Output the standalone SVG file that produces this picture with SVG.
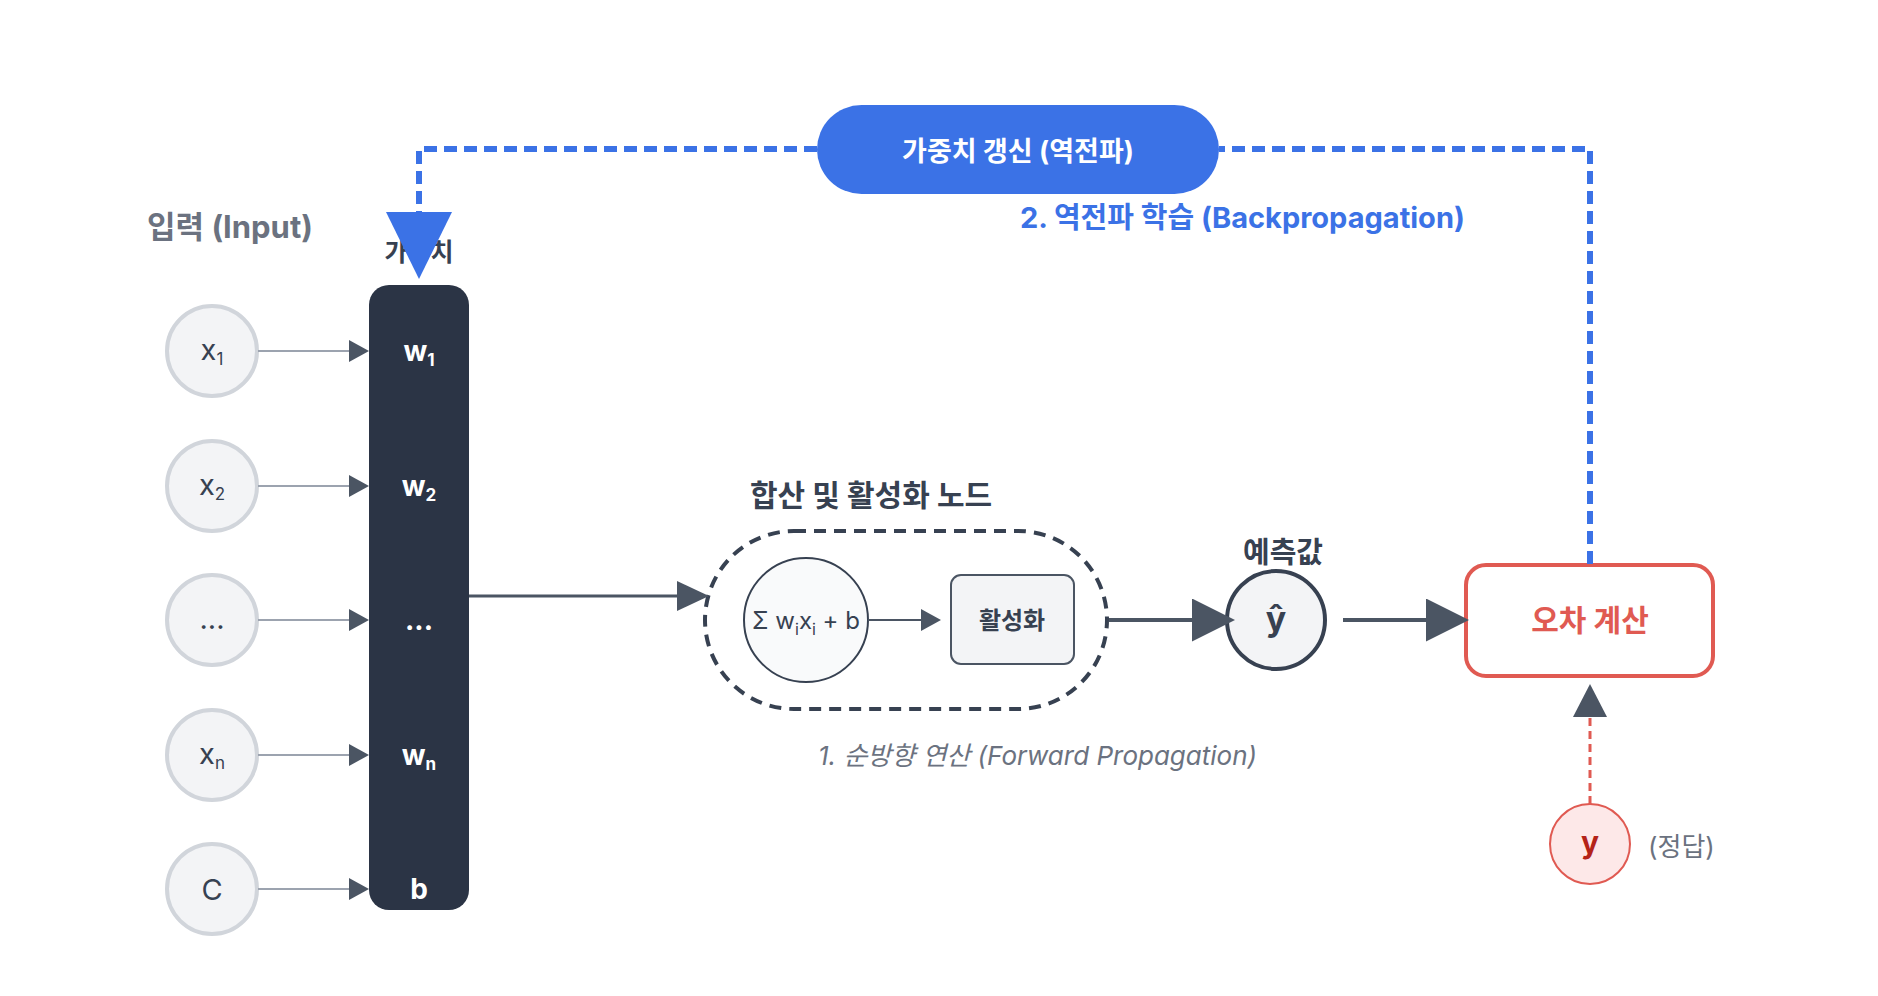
<svg xmlns="http://www.w3.org/2000/svg" width="1878" height="996" viewBox="0 0 1878 996">
<style>
text{font-family:Inter,"Noto Sans CJK KR",sans-serif}
.in{fill:#f3f4f6;stroke:#d1d5db;stroke-width:4}
.inT{font-size:29px;fill:#374151;text-anchor:middle}
.wT{font-size:28px;font-weight:700;fill:#ffffff;text-anchor:middle}
.sub{font-size:17px}
.inl{stroke:#9ca3af;stroke-width:2;fill:none}
.dl{stroke:#4b5563;fill:none}
.lbl{font-weight:700;fill:#374151}
</style>
<defs>
<marker id="arrS" markerUnits="userSpaceOnUse" markerWidth="20" markerHeight="22" refX="0" refY="11" orient="auto"><path d="M0,0 L20,11 L0,22 z" fill="#4b5563"/></marker>
<marker id="arrM" markerUnits="userSpaceOnUse" markerWidth="32" markerHeight="30" refX="0" refY="15" orient="auto"><path d="M0,0 L32,15 L0,30 z" fill="#4b5563"/></marker>
<marker id="arrL" markerUnits="userSpaceOnUse" markerWidth="43" markerHeight="43" refX="0" refY="21.5" orient="auto"><path d="M0,0 L43,21.5 L0,43 z" fill="#4b5563"/></marker>
<marker id="arrU" markerUnits="userSpaceOnUse" markerWidth="33" markerHeight="34" refX="0" refY="17" orient="auto"><path d="M0,0 L33,17 L0,34 z" fill="#4b5563"/></marker>
<marker id="arrB" markerUnits="userSpaceOnUse" markerWidth="67" markerHeight="66" refX="0" refY="33" orient="auto"><path d="M0,0 L67,33 L0,66 z" fill="#3b72e6"/></marker>
</defs>
<rect width="1878" height="996" fill="#ffffff"/>

<g id="labels">
<text x="147" y="238" font-size="31" font-weight="700" fill="#6b7280">입력 (Input)</text>
<text x="419" y="261" font-size="25" font-weight="700" fill="#374151" text-anchor="middle">가중치</text>
<text x="750" y="506" font-size="30" class="lbl">합산 및 활성화 노드</text>
<text x="1283" y="563" font-size="29" class="lbl" text-anchor="middle">예측값</text>
<text x="1020" y="228" font-size="29" font-weight="700" fill="#3b72e6">2. 역전파 학습 (Backpropagation)</text>
<text x="818" y="765" font-size="26" font-style="italic" fill="#6b7280">1. 순방향 연산 (Forward Propagation)</text>
<text x="1648" y="856" font-size="26" fill="#6b7280">(정답)</text>
</g>

<g id="inputs">
<g id="x1"><circle class="in" cx="212" cy="351" r="45"/><text class="inT" x="212" y="360">x<tspan class="sub" dy="5">1</tspan></text></g>
<g id="x2"><circle class="in" cx="212" cy="486" r="45"/><text class="inT" x="212" y="495">x<tspan class="sub" dy="5">2</tspan></text></g>
<g id="xdots"><circle class="in" cx="212" cy="620" r="45"/><text class="inT" x="212" y="629" font-size="24">...</text></g>
<g id="xn"><circle class="in" cx="212" cy="755" r="45"/><text class="inT" x="212" y="764">x<tspan class="sub" dy="5">n</tspan></text></g>
<g id="c"><circle class="in" cx="212" cy="889" r="45"/><text class="inT" x="212" y="900" font-size="30">C</text></g>
</g>

<g id="weights">
<rect x="369" y="285" width="100" height="625" rx="20" fill="#2b3445"/>
<text class="wT" x="419" y="361">w<tspan class="sub" dy="5">1</tspan></text>
<text class="wT" x="419" y="496">w<tspan class="sub" dy="5">2</tspan></text>
<text class="wT" x="419" y="630" font-size="24">...</text>
<text class="wT" x="419" y="765">w<tspan class="sub" dy="5">n</tspan></text>
<text class="wT" x="419" y="899">b</text>
</g>

<g id="sum-activation-group">
<rect x="705" y="531" width="402" height="178" rx="89" fill="none" stroke="#374151" stroke-width="4" stroke-dasharray="12 8"/>
</g>

<g id="sum">
<circle cx="806" cy="620" r="62" fill="#f9fafb" stroke="#374151" stroke-width="2"/>
<text x="806" y="629" font-size="24" fill="#374151" text-anchor="middle">Σ w<tspan font-size="16" dy="6">i</tspan><tspan dy="-6">x</tspan><tspan font-size="16" dy="6">i</tspan><tspan dy="-6"> + b</tspan></text>
</g>

<g id="activation">
<rect x="951" y="575" width="123" height="89" rx="10" fill="#f3f4f6" stroke="#4b5563" stroke-width="2"/>
<text x="1012" y="629" font-size="24" font-weight="700" fill="#374151" text-anchor="middle">활성화</text>
</g>

<g id="prediction">
<circle cx="1276" cy="620" r="49" fill="#f3f4f6" stroke="#374151" stroke-width="4"/>
<text x="1276" y="631" font-size="34" font-weight="700" fill="#374151" text-anchor="middle">ŷ</text>
</g>

<g id="error">
<rect x="1466" y="565" width="247" height="111" rx="20" fill="#ffffff" stroke="#e05a52" stroke-width="4"/>
<text x="1590" y="631" font-size="30" font-weight="700" fill="#e05a52" text-anchor="middle">오차 계산</text>
</g>

<g id="target">
<circle cx="1590" cy="844" r="40" fill="#fde8e8" stroke="#e05a52" stroke-width="2"/>
<text x="1590" y="853" font-size="30" font-weight="700" fill="#b42318" text-anchor="middle">y</text>
</g>

<g id="update">
<rect x="817" y="105" width="402" height="89" rx="44.5" fill="#3b72e6"/>
<text x="1018" y="161" font-size="27" font-weight="700" fill="#ffffff" text-anchor="middle">가중치 갱신 (역전파)</text>
</g>

<g id="connectors">
<path class="inl" d="M258,351 H349" marker-end="url(#arrS)"/>
<path class="inl" d="M258,486 H349" marker-end="url(#arrS)"/>
<path class="inl" d="M258,620 H349" marker-end="url(#arrS)"/>
<path class="inl" d="M258,755 H349" marker-end="url(#arrS)"/>
<path class="inl" d="M258,889 H349" marker-end="url(#arrS)"/>
<path class="dl" stroke-width="3" d="M469,596 H677" marker-end="url(#arrM)"/>
<path class="dl" stroke-width="2" d="M868,620 H921" marker-end="url(#arrS)"/>
<path class="dl" stroke-width="4" d="M1109,620 H1192" marker-end="url(#arrL)"/>
<path class="dl" stroke-width="4" d="M1343,620 H1426" marker-end="url(#arrL)"/>
<path d="M1590,804 V717" fill="none" stroke="#e05a52" stroke-width="3" stroke-dasharray="8 5" marker-end="url(#arrU)"/>
<path d="M1590,564 V149 H1219" fill="none" stroke="#3b72e6" stroke-width="6" stroke-dasharray="13 7"/>
<path d="M817,149 H419 V212" fill="none" stroke="#3b72e6" stroke-width="6" stroke-dasharray="13 7" marker-end="url(#arrB)"/>
</g>
</svg>
